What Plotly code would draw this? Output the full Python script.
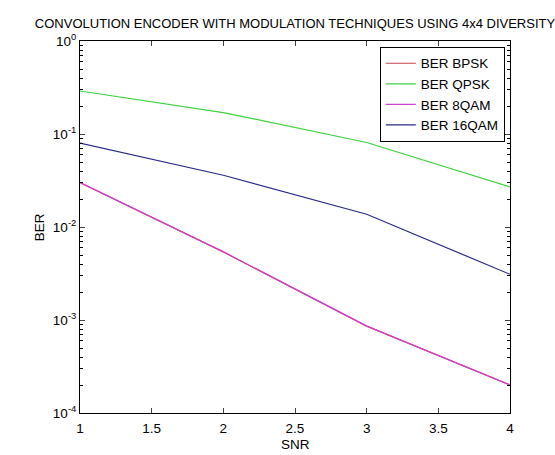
import plotly.graph_objects as go

snr = [1, 2, 3, 4]
ber_bpsk = [0.030, 0.0054, 0.00086, 0.0002]
ber_qpsk = [0.29, 0.17, 0.081, 0.027]
ber_8qam = [0.030, 0.0054, 0.00086, 0.0002]
ber_16qam = [0.080, 0.036, 0.0137, 0.0031]

series_names = ["BER BPSK", "BER QPSK", "BER 8QAM", "BER 16QAM"]
series_colors = ["#c8404f", "#3fd13f", "#d040d0", "#2a2a8a"]

x_ticks = [1, 1.5, 2, 2.5, 3, 3.5, 4]
y_tick_vals = [1e-4, 1e-3, 1e-2, 1e-1, 1]
y_tick_text = ["10<sup>-4</sup>", "10<sup>-3</sup>", "10<sup>-2</sup>", "10<sup>-1</sup>", "10<sup>0</sup>"]

title_text = "CONVOLUTION ENCODER WITH MODULATION TECHNIQUES USING 4x4 DIVERSITY"
x_title = "SNR"
y_title = "BER"

FONT = "Liberation Sans, Arial, sans-serif"

fig = go.Figure()
for name, ys, col in zip(series_names, [ber_bpsk, ber_qpsk, ber_8qam, ber_16qam], series_colors):
    fig.add_trace(go.Scatter(x=snr, y=ys, mode="lines", name=name,
                             line=dict(color=col, width=1.2)))

minor_vals = [k * 10.0 ** e for e in range(-4, 0) for k in range(2, 10)]

fig.update_layout(
    width=555, height=455,
    margin=dict(l=80, r=45, t=41, b=42, autoexpand=False),
    paper_bgcolor="white", plot_bgcolor="white",
    font=dict(family=FONT, size=13, color="black"),
    title=dict(text=title_text, x=0.5, xref="paper", y=1 - 23 / 455, yref="container",
               xanchor="center", yanchor="middle", font=dict(size=13, color="black")),
    showlegend=True,
    legend=dict(x=0.988, y=0.984, xanchor="right", yanchor="top",
                bgcolor="white", bordercolor="black", borderwidth=1,
                font=dict(size=13.5), tracegroupgap=0),
    xaxis=dict(range=[1, 4], tickvals=x_ticks, ticks="inside", ticklen=5,
               showline=True, linecolor="black", linewidth=1, mirror="ticks",
               showgrid=False, zeroline=False, ticklabelstandoff=3, automargin=False,
               tickfont=dict(size=13.5)),
    yaxis=dict(type="log", range=[-4, 0], tickvals=y_tick_vals, ticktext=y_tick_text,
               ticks="inside", ticklen=5, tickfont=dict(size=13.5), automargin=False,
               showline=True, linecolor="black", linewidth=1, mirror="ticks",
               showgrid=False, zeroline=False,
               minor=dict(tickvals=minor_vals, ticks="inside", ticklen=3,
                          tickcolor="black", showgrid=False)),
    annotations=[
        dict(text=x_title, xref="paper", yref="paper", x=0.5, y=-0.086,
             xanchor="center", yanchor="middle", showarrow=False, font=dict(size=13.5)),
        dict(text=y_title, xref="paper", yref="paper", x=-0.095, y=0.5, textangle=-90,
             xanchor="center", yanchor="middle", showarrow=False, font=dict(size=13.5)),
    ],
)

fig.write_html("out.html")
